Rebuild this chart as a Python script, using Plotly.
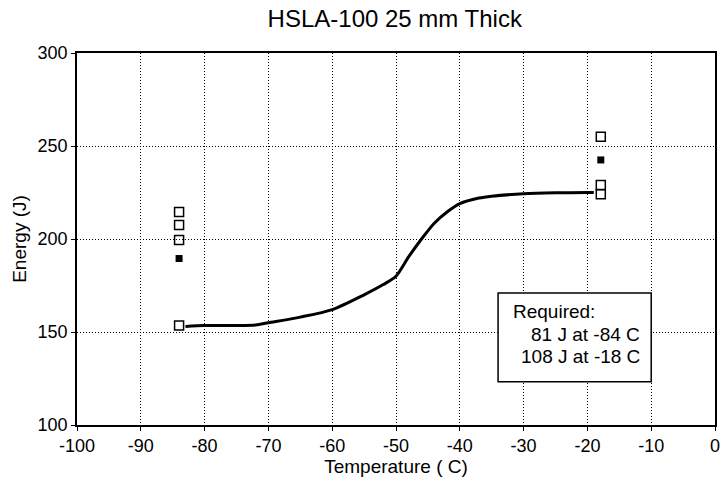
import plotly.graph_objects as go

# Fitted transition curve
curve_temp = [-83, -80, -75, -72, -70, -65, -60, -55, -52, -50, -48, -46, -44, -42, -40, -37, -35, -30, -25, -20, -19]
curve_energy = [153, 153.5, 153.5, 153.8, 155, 158, 162, 170, 175.5, 180, 190.5, 200, 208.5, 214.5, 219, 222, 223, 224.3, 224.8, 225, 225]

# Individual test results (open squares)
open_temp = [-84, -84, -84, -84, -17.9, -17.9, -17.9]
open_energy = [214.5, 207.5, 199.5, 153.5, 255, 229, 224]

# Averages (filled squares)
avg_temp = [-84, -17.9]
avg_energy = [189.5, 242.5]

x_ticks = [-100, -90, -80, -70, -60, -50, -40, -30, -20, -10, 0]
y_ticks = [100, 150, 200, 250, 300]

req_lines = ["Required:", "81 J at -84 C", "108 J at -18 C"]

FONT = "Liberation Sans, Arial, Helvetica, sans-serif"

fig = go.Figure()
fig.add_trace(go.Scatter(x=curve_temp, y=curve_energy, mode="lines",
                         line=dict(color="black", width=3, shape="spline", smoothing=0.8),
                         showlegend=False, hoverinfo="skip"))
fig.add_trace(go.Scatter(x=open_temp, y=open_energy, mode="markers",
                         marker=dict(symbol="square-open", size=9, color="black",
                                     line=dict(width=1.5, color="black")),
                         showlegend=False))
fig.add_trace(go.Scatter(x=avg_temp, y=avg_energy, mode="markers",
                         marker=dict(symbol="square", size=7, color="black"),
                         showlegend=False))

axis_common = dict(
    showline=True, linecolor="black", linewidth=1.5, mirror=True,
    showgrid=True, gridcolor="black", gridwidth=1, griddash="1px,2px",
    ticks="outside", ticklen=4, tickcolor="black", tickwidth=1,
    zeroline=False, automargin=False,
    tickfont=dict(family=FONT, size=18, color="black"),
)

fig.update_xaxes(range=[-100, 0], tickvals=x_ticks, ticktext=[str(v) for v in x_ticks],
                 title=dict(text="Temperature ( C)", font=dict(family=FONT, size=19, color="black"),
                            standoff=4),
                 **axis_common)
fig.update_yaxes(range=[100, 300], tickvals=y_ticks, ticktext=[str(v) for v in y_ticks],
                 title=dict(text="Energy (J)", font=dict(family=FONT, size=19, color="black"),
                            standoff=6),
                 **axis_common)

fig.add_shape(type="rect", xref="paper", yref="paper", x0=0.660, x1=0.900, y0=0.116, y1=0.355,
              line=dict(color="black", width=1.5), fillcolor="white", layer="above")
fig.add_annotation(xref="paper", yref="paper", x=0.680, y=0.304, xanchor="left", yanchor="middle",
                   text=req_lines[0], showarrow=False,
                   font=dict(family=FONT, size=19, color="black"))
fig.add_annotation(xref="paper", yref="paper", x=0.885, y=0.242, xanchor="right", yanchor="middle",
                   text=req_lines[1], showarrow=False,
                   font=dict(family=FONT, size=19, color="black"))
fig.add_annotation(xref="paper", yref="paper", x=0.885, y=0.183, xanchor="right", yanchor="middle",
                   text=req_lines[2], showarrow=False,
                   font=dict(family=FONT, size=19, color="black"))

fig.update_layout(
    width=723, height=487,
    margin=dict(l=77, r=8, t=53, b=62),
    paper_bgcolor="white", plot_bgcolor="white",
    title=dict(text="HSLA-100 25 mm Thick", xref="container", x=0.546, xanchor="center",
               yref="container", y=0.962, yanchor="middle",
               font=dict(family=FONT, size=24, color="black")),
    font=dict(family=FONT, color="black"),
)

fig.write_html("out.html", config={"displayModeBar": False})

with open("out.html", "r", encoding="utf-8") as f:
    html = f.read()
html = html.replace("<body>", '<body style="margin:0;overflow:hidden">', 1)
with open("out.html", "w", encoding="utf-8") as f:
    f.write(html)
